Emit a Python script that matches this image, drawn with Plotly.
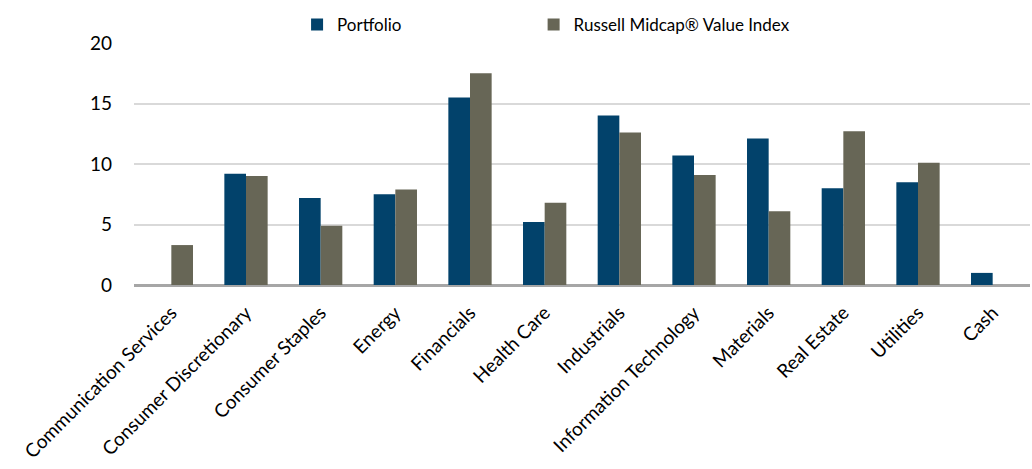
import plotly.graph_objects as go

categories = ["Communication Services", "Consumer Discretionary", "Consumer Staples", "Energy",
              "Financials", "Health Care", "Industrials", "Information Technology",
              "Materials", "Real Estate", "Utilities", "Cash"]
portfolio = [0, 9.2, 7.2, 7.5, 15.5, 5.2, 14.0, 10.7, 12.1, 8.0, 8.5, 1.0]
benchmark = [3.3, 9.0, 4.9, 7.9, 17.5, 6.8, 12.6, 9.1, 6.1, 12.7, 10.1, 0]
y_ticks = [0, 5, 10, 15, 20]

FONT = "Lato"

fig = go.Figure()
fig.add_trace(go.Bar(x=categories, y=portfolio, name="Portfolio", legend="legend", showlegend=True,
                     marker=dict(color="#02426B", line=dict(width=0))))
fig.add_trace(go.Bar(x=categories, y=benchmark, name="Russell Midcap® Value Index", legend="legend2",
                     showlegend=True, marker=dict(color="#676656", line=dict(width=0))))

leg_common = dict(orientation="h", xanchor="left", y=1.075, yanchor="middle",
                  font=dict(family=FONT, size=17), bgcolor="rgba(0,0,0,0)")

fig.update_layout(
    width=1032, height=469,
    margin=dict(l=134, r=2, t=43, b=184),
    paper_bgcolor="white", plot_bgcolor="white",
    showlegend=True,
    barmode="group", bargap=0.42, bargroupgap=0,
    font=dict(family=FONT, size=16, color="#000000"),
    legend=dict(x=0.182, **leg_common),
    legend2=dict(x=0.446, **leg_common),
    xaxis=dict(tickangle=-45, showgrid=False, showline=False, ticks="",
               ticklabelstandoff=12, tickfont=dict(family=FONT, size=19)),
    yaxis=dict(range=[0, 20], tickvals=y_ticks, showgrid=True, gridcolor="#d9d9d9", gridwidth=1.5,
               zeroline=True, zerolinecolor="#a6a6a6", zerolinewidth=2.5,
               ticks="", ticklabelstandoff=21, tickfont=dict(family=FONT, size=19)),
)

fig.write_html("out.html")
